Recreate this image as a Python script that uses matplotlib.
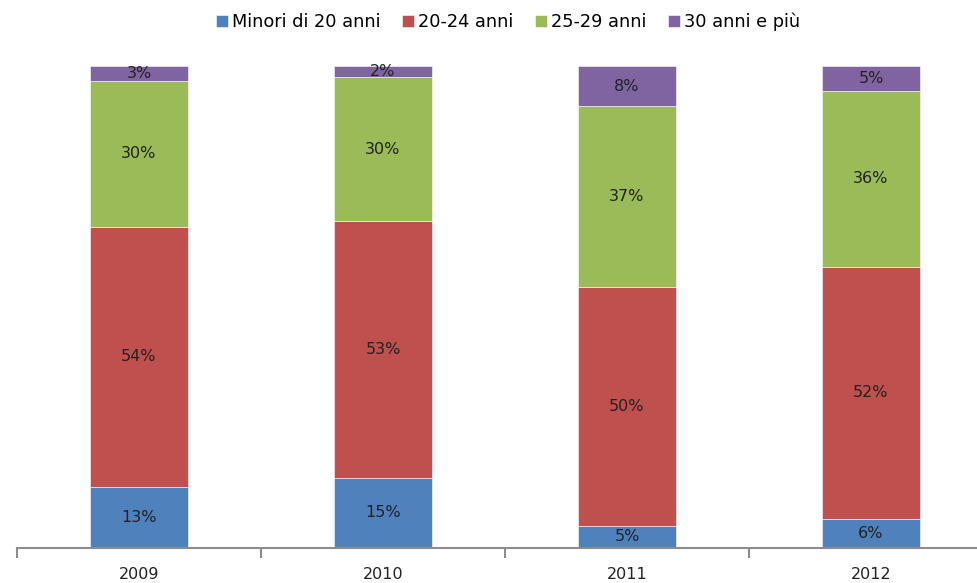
import matplotlib
matplotlib.use("Agg")
import matplotlib.pyplot as plt
import numpy as np

plt.rcParams['font.family'] = ['DejaVu Sans']

years = ["2009", "2010", "2011", "2012"]
series_names = ["Minori di 20 anni", "20-24 anni", "25-29 anni", "30 anni e più"]
minori_20 = [12.7, 14.6, 4.6, 6.0]
anni_20_24 = [53.9, 53.2, 49.6, 52.4]
anni_25_29 = [30.3, 29.9, 37.4, 36.4]
anni_30_piu = [3.1, 2.3, 8.4, 5.2]
colors = ["#4F81BD", "#C0504D", "#9BBB59", "#8064A2"]

fig = plt.figure(figsize=(9.77, 5.83), dpi=100)
ax = fig.add_axes([17/977, 35/583, 976/977, 482/583])

x = np.arange(len(years))
bottom = np.zeros(len(years))
for name, vals, col in zip(series_names, [minori_20, anni_20_24, anni_25_29, anni_30_piu], colors):
    vals = np.array(vals)
    ax.bar(x, vals, width=0.4, bottom=bottom, color=col, label=name,
           edgecolor='white', linewidth=0.4)
    for xi, b, v in zip(x, bottom, vals):
        ax.text(xi, b + v / 2, f"{v:.0f}%", ha='center', va='center',
                fontsize=11.5, color='#222222')
    bottom += vals

ax.set_xlim(-0.5, 3.5)
ax.set_ylim(0, 100)
for s in ['top', 'right', 'left']:
    ax.spines[s].set_visible(False)
ax.spines['bottom'].set_color('#8c8c8c')
ax.spines['bottom'].set_linewidth(1.5)
ax.set_yticks([])
ax.set_xticks(x)
ax.set_xticklabels(years, fontsize=11.5, color='#222222')
ax.tick_params(axis='x', which='major', length=0, pad=14)
ax.set_xticks(np.arange(-0.5, 3.6, 1.0), minor=True)
ax.tick_params(axis='x', which='minor', length=7, width=1.5, color='#8c8c8c')

fig.legend(loc='upper center', bbox_to_anchor=(0.52, 1.0), ncol=4, frameon=False,
           fontsize=12.8, handlelength=0.65, handleheight=0.65, handletextpad=0.22,
           columnspacing=1.25, borderaxespad=0.3)

fig.savefig("out.png", dpi=100)
